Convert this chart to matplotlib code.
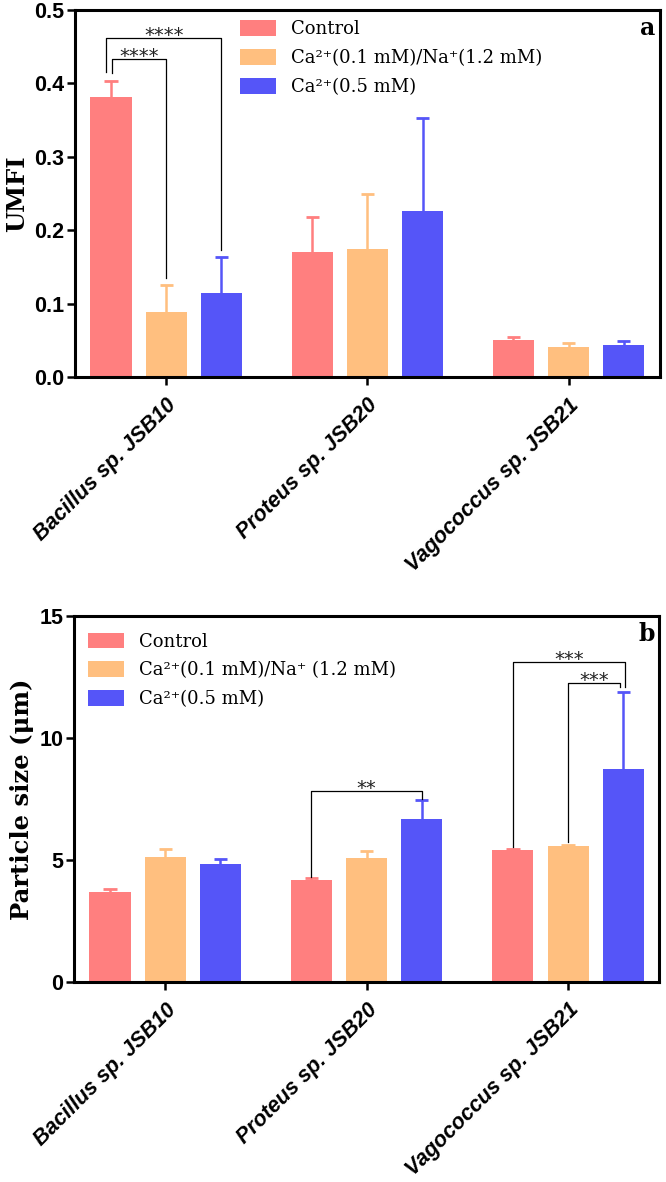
import numpy as np
import matplotlib
matplotlib.use("Agg")
from matplotlib import pyplot as plt

strains = ["Bacillus sp. JSB10", "Proteus sp. JSB20", "Vagococcus sp. JSB21"]
series = ["Control", "Ca²⁺(0.1 mM)/Na⁺(1.2 mM)", "Ca²⁺(0.5 mM)"]
series_b = ["Control", "Ca²⁺(0.1 mM)/Na⁺ (1.2 mM)", "Ca²⁺(0.5 mM)"]
colors = ["#FF7F7F", "#FFBF7F", "#5555F8"]

# panel a: UMFI (mean, upper SD)
umfi_control = [0.382, 0.170, 0.051]
umfi_mixed = [0.088, 0.175, 0.041]
umfi_ca = [0.115, 0.226, 0.043]
umfi_err_control = [0.022, 0.048, 0.003]
umfi_err_mixed = [0.038, 0.075, 0.006]
umfi_err_ca = [0.048, 0.127, 0.006]

# panel b: particle size (um)
size_control = [3.70, 4.18, 5.40]
size_mixed = [5.14, 5.08, 5.57]
size_ca = [4.85, 6.69, 8.72]
size_err_control = [0.10, 0.08, 0.05]
size_err_mixed = [0.32, 0.28, 0.03]
size_err_ca = [0.18, 0.77, 3.15]

# brackets: (group, left series, right series, top, left bottom, right bottom, left shift, right shift, label)
brackets_a = [
    (0, 0, 2, 0.462, 0.415, 0.173, -0.025, 0.0, "****"),
    (0, 0, 1, 0.433, 0.414, 0.135, 0.004, 0.0, "****"),
]
brackets_b = [
    (1, 0, 2, 7.83, 4.30, 7.50, 0.0, 0.0, "**"),
    (2, 0, 2, 13.11, 5.55, 12.1, 0.0, 0.01, "***"),
    (2, 1, 2, 12.24, 5.75, 12.1, 0.0, -0.015, "***"),
]

pitch = 0.274
width = 0.204
cap = 0.033

FAM = ['DejaVu Serif']


def panel(ax, vals, errs, labels, ylim, yticks, yticklabels, ylabel, tag, brackets, leg_anchor):
    x = np.arange(len(strains))
    for i, (v, e, c) in enumerate(zip(vals, errs, colors)):
        xi = x + (i - 1) * pitch
        v = np.array(v)
        e = np.array(e)
        ax.bar(xi, v, width=width, color=c, label=labels[i], zorder=2)
        ax.vlines(xi, v, v + e, color=c, lw=1.8, zorder=2)
        ax.hlines(v + e, xi - cap, xi + cap, color=c, lw=2.0, zorder=2)
    for g, s1, s2, top, b1, b2, d1, d2, lab in brackets:
        xl = g + (s1 - 1) * pitch + d1
        xr = g + (s2 - 1) * pitch + d2
        ax.plot([xl, xl, xr, xr], [b1, top, top, b2], color='k', lw=0.9, zorder=3)
        ax.annotate(lab, ((xl + xr) / 2, top), xytext=(0, -2.0), textcoords='offset points',
                    ha='center', va='baseline', fontsize=14, family='DejaVu Sans', color='#222222')
    ax.set_xlim(-0.453, 2.453)
    ax.set_ylim(*ylim)
    ax.set_yticks(yticks)
    ax.set_yticklabels(yticklabels, fontsize=15.5, fontweight='bold', family='Liberation Sans')
    ax.set_xticks(x)
    ax.set_xticklabels(strains, rotation=45, ha='right', rotation_mode='anchor',
                       fontsize=15.5, fontweight='bold', fontstyle='italic', family='Liberation Sans')
    ax.tick_params(axis='both', direction='out', length=5.5, width=1.8, pad=2)
    ax.tick_params(axis='x', pad=7)
    for sp in ax.spines.values():
        sp.set_linewidth(2.2)
    ax.set_ylabel(ylabel, fontsize=17.5, fontweight='bold', family='DejaVu Serif', labelpad=4)
    ax.text(0.993, 0.95, tag, transform=ax.transAxes, ha='right', va='center',
            fontsize=17, fontweight='bold', family='DejaVu Serif')
    ax.legend(loc='upper left', bbox_to_anchor=leg_anchor, frameon=False,
              prop={'family': FAM, 'size': 13},
              handlelength=2.0, handleheight=0.95, labelspacing=0.6, handletextpad=0.85,
              borderpad=0, borderaxespad=0)


fig = plt.figure(figsize=(6.66, 11.82), dpi=100)
ax1 = fig.add_axes([0.1126, 0.681, 0.878, 0.3105])
ax2 = fig.add_axes([0.111, 0.1692, 0.879, 0.3096])

panel(ax1, [umfi_control, umfi_mixed, umfi_ca],
      [umfi_err_control, umfi_err_mixed, umfi_err_ca], series,
      (0, 0.5), [0.0, 0.1, 0.2, 0.3, 0.4, 0.5], ["0.0", "0.1", "0.2", "0.3", "0.4", "0.5"],
      "UMFI", "a", brackets_a, (0.282, 0.972))
panel(ax2, [size_control, size_mixed, size_ca],
      [size_err_control, size_err_mixed, size_err_ca], series_b,
      (0, 15), [0, 5, 10, 15], ["0", "5", "10", "15"],
      "Particle size (μm)", "b", brackets_b, (0.024, 0.955))

fig.savefig("out.png", dpi=100)
